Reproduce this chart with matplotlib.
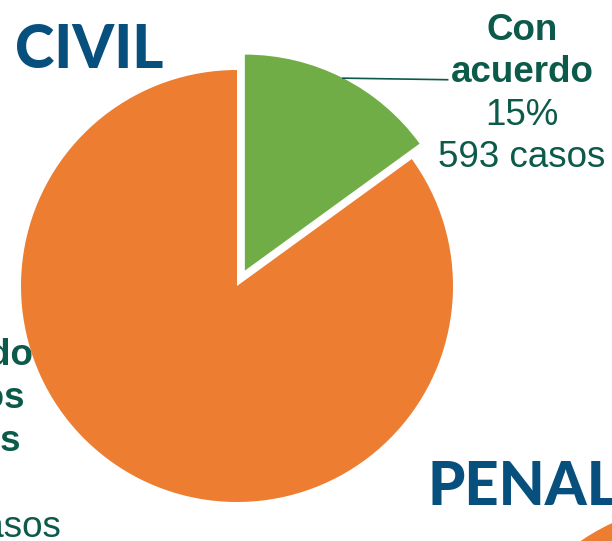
import numpy as np
from matplotlib import pyplot as plt

# civil: con acuerdo / sin acuerdo
labels = ['Con acuerdo', 'Sin acuerdo']
casos = [593, 3360]
casos_txt = ['593', '3.360']
pcts = [15, 85]
colors = ['#70AD47', '#ED7D31']
penal_casos = [1]

txt_color = '#0B5A4A'
title_color = '#07507E'

fig = plt.figure(figsize=(6.12, 5.41), dpi=100)

# main pie, centre at ~(237, 286) px, radius ~216 px
ax = fig.add_axes([21 / 612, 39 / 541, 432 / 612, 432 / 541])
wedges, _ = ax.pie(casos, colors=colors, startangle=90, counterclock=False,
                   explode=[0.08, 0], radius=1.0,
                   wedgeprops=dict(linewidth=0))
ax.set_xlim(-1, 1)
ax.set_ylim(-1, 1)
ax.set_aspect('equal')
ax.axis('off')
for w in wedges:
    w.set_clip_on(False)

# leader line from the middle of the green arc
g = wedges[0]
mid = np.deg2rad((g.theta1 + g.theta2) / 2)
x0 = g.center[0] + g.r * np.cos(mid)
y0 = g.center[1] + g.r * np.sin(mid)
ax.plot([x0, 0.975], [y0, 0.955], color=txt_color, lw=1.2, clip_on=False)

# right label
rx = 1.32
lines_r = [('Con', 'bold'), ('acuerdo', 'bold'),
           ('%d%%' % pcts[0], 'normal'), (casos_txt[0] + ' casos', 'normal')]
for i, (t, wt) in enumerate(lines_r):
    ax.text(rx, 1.139 - i * 0.196, t, ha='center', va='baseline',
            fontsize=26.5, fontweight=wt, color=txt_color,
            family='Liberation Sans', clip_on=False)

# left label (partly outside the figure)
lx = -1.272
lines_l = [('Sin', 'bold'), ('acuerdo', 'bold'), ('u otros', 'bold'),
           ('finales', 'bold'), ('%d%%' % pcts[1], 'normal'),
           (casos_txt[1] + ' casos', 'normal')]
for i, (t, wt) in enumerate(lines_l):
    ax.text(lx, -0.167 - i * 0.199, t, ha='center', va='baseline',
            fontsize=26.5, fontweight=wt, color=txt_color,
            family='Liberation Sans', clip_on=False)

# second pie (penal), mostly off the canvas
ax2 = fig.add_axes([487 / 612, -394 / 541, 432 / 612, 432 / 541])
ax2.pie(penal_casos, colors=[colors[1]], wedgeprops=dict(linewidth=0))
ax2.set_xlim(-1, 1)
ax2.set_ylim(-1, 1)
ax2.axis('off')

fig.text(15 / 612, 1 - 68 / 541, 'CIVIL', fontsize=43, fontweight='black',
         family='Lato', color=title_color, va='baseline')
fig.text(427 / 612, 1 - 505 / 541, 'PENAL', fontsize=43, fontweight='black',
         family='Lato', color=title_color, va='baseline')

fig.savefig('out.png', dpi=100)
